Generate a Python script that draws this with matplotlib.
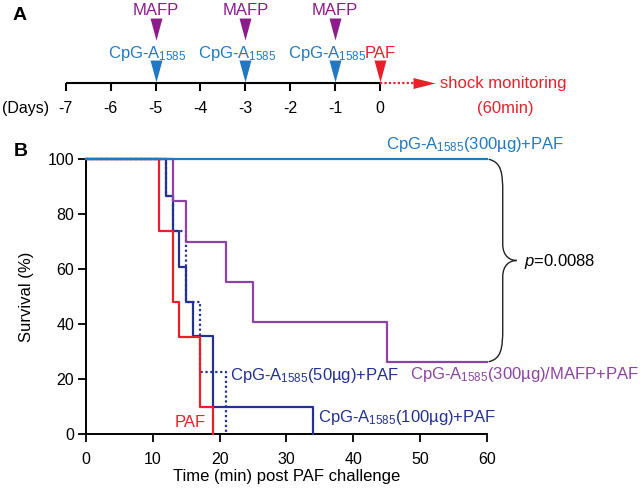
import numpy as np
import matplotlib
matplotlib.use('Agg')
import matplotlib.pyplot as plt
from matplotlib.path import Path
from matplotlib.patches import PathPatch

plt.rcParams['font.family'] = ['Liberation Sans', 'DejaVu Sans']
plt.rcParams['mathtext.fontset'] = 'custom'
plt.rcParams['mathtext.rm'] = 'Liberation Sans'
plt.rcParams['mathtext.it'] = 'Liberation Sans:italic'
plt.rcParams['mathtext.bf'] = 'Liberation Sans:bold'

# ---- panel A: schedule (days) ----
days = [-7, -6, -5, -4, -3, -2, -1, 0]
mafp_days = [-5, -3, -1]
cpg_days = [-5, -3, -1]
paf_day = [0]

# ---- panel B: survival curves ----
time_300 = [0, 60]
surv_300 = [100, 100]
time_mafp = [0, 13, 15, 21, 25, 45, 60]
surv_mafp = [100, 85, 70, 55.5, 41, 26.4, 26.4]
time_100 = [0, 12, 13, 14, 15, 16, 19, 34]
surv_100 = [100, 86.7, 74, 61, 48, 35.7, 10, 0]
time_50 = [0, 12, 13, 15, 17, 21]
surv_50 = [100, 86.7, 74, 48, 22.5, 0]
time_paf = [0, 11, 13, 14, 17, 19]
surv_paf = [100, 74, 48, 35.3, 10, 0]

x_ticks = [0, 10, 20, 30, 40, 50, 60]
y_ticks = [0, 20, 40, 60, 80, 100]
p_text = r'$p$=0.0088'

c_light = '#2179c3'
c_navy = '#233291'
c_red = '#e8202a'
c_purple = '#8c44a4'
c_mafp = '#8e1b8c'

SUB = r'$_{\mathrm{1585}}$'

W, H = 642, 493
fig = plt.figure(figsize=(W / 100, H / 100), dpi=100)

# ================= panel A =================
axA = fig.add_axes([0, 1 - 130 / H, 1, 130 / H])
px_day = 44.9
day0 = 380
axA.set_xlim(-day0 / px_day, (W - day0) / px_day)
axA.set_ylim(130, 0)
axA.axis('off')

line_y = 83.3
axA.plot([days[0], days[-1]], [line_y, line_y], color='k', lw=1.5,
         solid_capstyle='butt')
axA.vlines(days, line_y, 90.5, color='k', lw=1.5)
for d in days:
    axA.text(d, 112.7, str(d), ha='center', va='baseline', fontsize=11.5)
axA.text(-8.42, 112.7, '(Days)', ha='left', va='baseline', fontsize=11.5)

tri_down = [(-0.545, 1), (0.545, 1), (0, -1)]
tri_right = [(-1, 0.5), (-1, -0.5), (1, 0)]

axA.plot(mafp_days, [29.2] * len(mafp_days), ls='none', marker=tri_down,
         ms=15.8, color=c_mafp, mec='none')
for d in mafp_days:
    axA.text(d, 15.2, 'MAFP', ha='center', va='baseline', fontsize=12,
             color=c_mafp)

axA.plot(cpg_days, [71] * len(cpg_days), ls='none', marker=tri_down,
         ms=15.8, color=c_light, mec='none')
for d in cpg_days:
    axA.text(d - 0.18, 58.3, 'CpG-A' + SUB, ha='center', va='baseline',
             fontsize=12, color=c_light)

axA.plot(paf_day, [71], ls='none', marker=tri_down, ms=15.8, color=c_red,
         mec='none')
axA.text(paf_day[0], 58.3, 'PAF', ha='center', va='baseline', fontsize=12,
         color=c_red)

# dotted arrow towards shock monitoring
axA.plot([0, 0.75], [line_y, line_y], color=c_red, lw=1.6, ls=(0, (1, 1)))
axA.plot([0.98], [line_y], ls='none', marker=tri_right, ms=15.8,
         color=c_red, mec='none')
axA.text(1.34, 88.3, 'shock monitoring', ha='left', va='baseline',
         fontsize=12, color=c_red)
axA.text(2.78, 112.7, '(60min)', ha='center', va='baseline', fontsize=12,
         color=c_red)

fig.text(20 / W, 1 - 15 / H, 'A', ha='center', va='center', fontsize=14,
         fontweight='bold')
fig.text(21 / W, 1 - 151 / H, 'B', ha='center', va='center', fontsize=14,
         fontweight='bold')

# ================= panel B =================
left, right, top, bottom = 86, 486.7, 159.3, 434.3
axB = fig.add_axes([left / W, 1 - bottom / H, (right - left) / W,
                    (bottom - top) / H])
axB.set_xlim(0, 60)
axB.set_ylim(0, 100)
for s in ['top', 'right']:
    axB.spines[s].set_visible(False)
for s in ['left', 'bottom']:
    axB.spines[s].set_linewidth(1.4)
axB.set_xticks(x_ticks)
axB.set_yticks(y_ticks)
axB.tick_params(direction='out', length=6, width=1.3, labelsize=11.5)
axB.tick_params(axis='x', pad=6.5)
axB.tick_params(axis='y', pad=2.5)

lw = 1.6
axB.step(time_100, surv_100, where='post', color=c_navy, lw=lw,
         clip_on=False, zorder=3)
axB.step(time_50, surv_50, where='post', color=c_navy, lw=lw,
         ls=(0, (1, 1.2)), clip_on=False, zorder=3)
axB.step(time_paf, surv_paf, where='post', color=c_red, lw=lw,
         clip_on=False, zorder=4)
axB.step(time_mafp, surv_mafp, where='post', color=c_purple, lw=lw,
         clip_on=False, zorder=3)
axB.step(time_300, surv_300, where='post', color=c_light, lw=lw,
         clip_on=False, zorder=5)

fs = 12
axB.text(44.9, 103.6, 'CpG-A' + SUB + '(300µg)+PAF', color=c_light,
         fontsize=fs, ha='left', va='baseline', clip_on=False)
axB.text(48.5, 20.0, 'CpG-A' + SUB + '(300µg)/MAFP+PAF', color=c_purple,
         fontsize=fs, ha='left', va='baseline', clip_on=False)
axB.text(21.6, 19.7, 'CpG-A' + SUB + '(50µg)+PAF', color=c_navy,
         fontsize=fs, ha='left', va='baseline')
axB.text(34.7, 4.4, 'CpG-A' + SUB + '(100µg)+PAF', color=c_navy,
         fontsize=fs, ha='left', va='baseline')
axB.text(13.2, 2.8, 'PAF', color=c_red, fontsize=fs, ha='left',
         va='baseline')
axB.text(65.6, 61.2, p_text, fontsize=fs, ha='left', va='baseline',
         clip_on=False)

# curly brace joining the 300ug groups
xe, xm, xt = 60.3, 62.4, 64.5
yt, yb = surv_300[-1], surv_mafp[-1]
ym = (yt + yb) / 2
verts = [(xe, yt), (xm - 0.2, yt - 1), (xm, yt - 5), (xm, yt - 12),
         (xm, ym + 6),
         (xm, ym + 1.5), (xt - 1, ym), (xt, ym),
         (xt - 1, ym), (xm, ym - 1.5), (xm, ym - 6),
         (xm, yb + 12),
         (xm, yb + 5), (xm - 0.2, yb + 1), (xe, yb)]
codes = [Path.MOVETO, Path.CURVE4, Path.CURVE4, Path.CURVE4,
         Path.LINETO,
         Path.CURVE4, Path.CURVE4, Path.CURVE4,
         Path.CURVE4, Path.CURVE4, Path.CURVE4,
         Path.LINETO,
         Path.CURVE4, Path.CURVE4, Path.CURVE4]
axB.add_patch(PathPatch(Path(verts, codes), fc='none', ec='#222222',
                        lw=1.0, clip_on=False))

axB.set_xlabel('Time (min) post PAF challenge', fontsize=fs)
axB.xaxis.set_label_coords(0.5, -0.125)
axB.set_ylabel('Survival (%)', fontsize=fs)
axB.yaxis.set_label_coords(-0.13, 0.5)

fig.savefig('out.png', dpi=100)
